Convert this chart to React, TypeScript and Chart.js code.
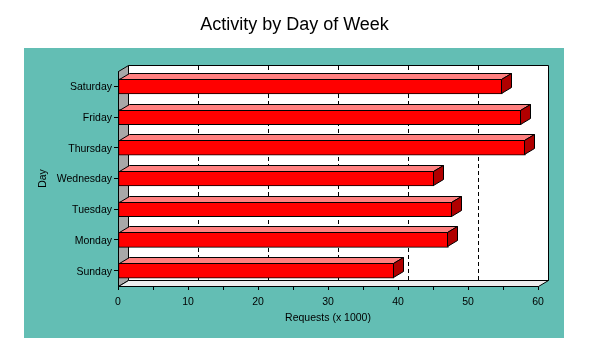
import React, { useEffect, useRef } from "react";
import { Chart, registerables } from "chart.js";

Chart.register(...registerables);

const days = ["Sunday", "Monday", "Tuesday", "Wednesday", "Thursday", "Friday", "Saturday"];
const requests = [39.4, 47.2, 47.7, 45.1, 58.2, 57.6, 54.9];
const gridValues = [10, 20, 30, 40, 50];
const titleText = "Activity by Day of Week";
const xTitle = "Requests (x 1000)";
const yTitle = "Day";

const W = 589;
const H = 353;
const DX = 10;
const DY = -6;
const FONT = "'Liberation Sans', Arial, sans-serif";

const threeD = {
  id: "threeD",
  beforeDraw(chart: any) {
    const { ctx } = chart;
    ctx.save();
    ctx.fillStyle = "#ffffff";
    ctx.fillRect(0, 0, W, H);
    ctx.fillStyle = "#63BEB4";
    ctx.fillRect(24, 48, 540, 290);
    ctx.fillStyle = "#000";
    ctx.font = `18px ${FONT}`;
    ctx.textAlign = "center";
    ctx.textBaseline = "alphabetic";
    ctx.fillText(titleText, W / 2, 30);
    ctx.restore();
  },
  beforeDatasetsDraw(chart: any) {
    const { ctx, chartArea: a, scales } = chart;
    const xs = scales.x;
    ctx.save();
    ctx.lineWidth = 1;
    ctx.strokeStyle = "#000";
    // back wall
    ctx.fillStyle = "#ffffff";
    ctx.beginPath();
    ctx.rect(a.left + DX + 0.5, a.top + DY + 0.5, a.right - a.left, a.bottom - a.top);
    ctx.fill();
    ctx.stroke();
    // left wall
    ctx.fillStyle = "#A8A8A8";
    ctx.beginPath();
    ctx.moveTo(a.left + 0.5, a.top + 0.5);
    ctx.lineTo(a.left + DX + 0.5, a.top + DY + 0.5);
    ctx.lineTo(a.left + DX + 0.5, a.bottom + DY + 0.5);
    ctx.lineTo(a.left + 0.5, a.bottom + 0.5);
    ctx.closePath();
    ctx.fill();
    ctx.stroke();
    // floor
    ctx.fillStyle = "#EEEEEE";
    ctx.beginPath();
    ctx.moveTo(a.left + 0.5, a.bottom + 0.5);
    ctx.lineTo(a.left + DX + 0.5, a.bottom + DY + 0.5);
    ctx.lineTo(a.right + DX + 0.5, a.bottom + DY + 0.5);
    ctx.lineTo(a.right + 0.5, a.bottom + 0.5);
    ctx.closePath();
    ctx.fill();
    ctx.stroke();
    // dashed grid on back wall
    ctx.setLineDash([4, 3]);
    gridValues.forEach((v) => {
      const x = Math.round(xs.getPixelForValue(v)) + DX + 0.5;
      ctx.beginPath();
      ctx.moveTo(x, a.top + DY + 1);
      ctx.lineTo(x, a.bottom + DY);
      ctx.stroke();
    });
    ctx.setLineDash([]);
    ctx.restore();
  },
  afterDatasetsDraw(chart: any) {
    const { ctx } = chart;
    const meta = chart.getDatasetMeta(0);
    ctx.save();
    ctx.lineWidth = 1;
    ctx.strokeStyle = "#000";
    meta.data.forEach((bar: any) => {
      const { x, y, base, height } = bar.getProps(["x", "y", "base", "height"], true);
      const t = Math.round(y - height / 2) + 0.5;
      const b = Math.round(y + height / 2) - 0.5;
      const l = Math.round(base) + 0.5;
      const r = Math.round(x) - 0.5;
      // top face
      ctx.fillStyle = "#FF8080";
      ctx.beginPath();
      ctx.moveTo(l, t);
      ctx.lineTo(l + DX, t + DY);
      ctx.lineTo(r + DX, t + DY);
      ctx.lineTo(r, t);
      ctx.closePath();
      ctx.fill();
      ctx.stroke();
      // side face
      ctx.fillStyle = "#B00000";
      ctx.beginPath();
      ctx.moveTo(r, t);
      ctx.lineTo(r + DX, t + DY);
      ctx.lineTo(r + DX, b + DY);
      ctx.lineTo(r, b);
      ctx.closePath();
      ctx.fill();
      ctx.stroke();
    });
    ctx.restore();
  },
};

export default function App() {
  const ref = useRef<HTMLCanvasElement | null>(null);
  useEffect(() => {
    if (!ref.current) return;
    const chart = new Chart(ref.current, {
      type: "bar",
      data: {
        labels: days,
        datasets: [
          {
            data: requests,
            backgroundColor: "#FF0000",
            borderColor: "#000000",
            borderWidth: 1,
            borderSkipped: false,
            barThickness: 15,
          },
        ],
      },
      options: {
        indexAxis: "y",
        responsive: false,
        animation: false,
        devicePixelRatio: 1,
        layout: { padding: { left: 0, right: 51, top: 71, bottom: 0 } },
        plugins: {
          legend: { display: false },
          tooltip: { enabled: false },
          title: { display: false },
        },
        scales: {
          x: {
            type: "linear",
            position: "bottom",
            min: 0,
            max: 60,
            afterFit: (s: any) => {
              s.height = 67;
            },
            grid: {
              drawOnChartArea: false,
              drawTicks: true,
              tickLength: 4,
              color: "#000",
            },
            border: { display: true, color: "#000" },
            ticks: {
              stepSize: 5,
              autoSkip: false,
              maxRotation: 0,
              padding: 6,
              color: "#000",
              font: { family: FONT, size: 10.5 },
              callback: (v: any) => (Number(v) % 10 === 0 ? String(v) : ""),
            },
            title: {
              display: true,
              text: xTitle,
              color: "#000",
              font: { family: FONT, size: 10.5 },
              padding: { top: 0, bottom: 28.5 },
            },
          },
          y: {
            type: "category",
            position: "left",
            reverse: true,
            afterFit: (s: any) => {
              s.width = 118;
            },
            grid: {
              offset: false,
              drawOnChartArea: false,
              drawTicks: true,
              tickLength: 4,
              color: "#000",
            },
            border: { display: true, color: "#000" },
            ticks: {
              padding: 2,
              labelOffset: 1,
              color: "#000",
              font: { family: FONT, size: 10.5 },
            },
            title: {
              display: true,
              text: yTitle,
              color: "#000",
              font: { family: FONT, size: 10.5 },
              padding: { top: 36.4, bottom: 0 },
            },
          },
        },
      },
      plugins: [threeD],
    });
    return () => chart.destroy();
  }, []);
  return (
    <div style={{ position: "absolute", left: 0, top: 0, width: W, height: H }}>
      <canvas ref={ref} width={W} height={H} style={{ display: "block", width: W, height: H }} />
    </div>
  );
}
